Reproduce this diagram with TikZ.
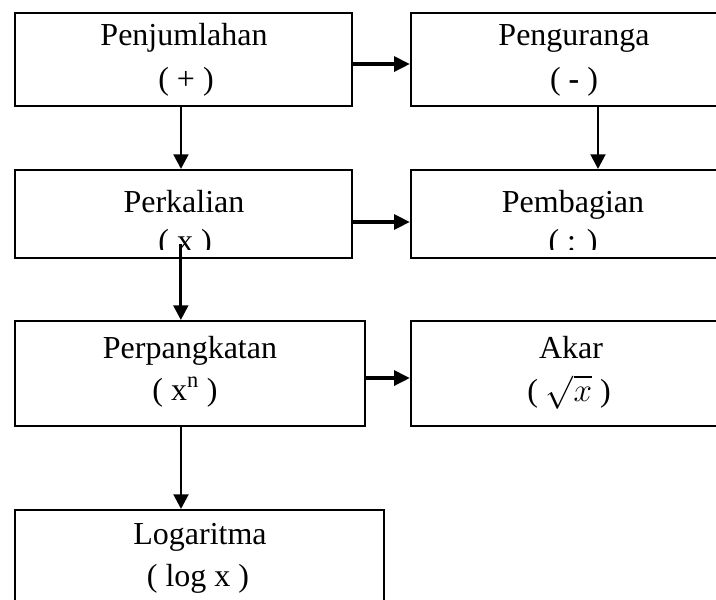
\documentclass[tikz,border=0pt]{standalone}
\usepackage{fontspec}
\setmainfont{Liberation Serif}
\usetikzlibrary{arrows.meta}

\tikzset{
	opbox/.style={draw, line width=1.5pt, rectangle, inner sep=0pt},
	optext/.style={anchor=base, inner sep=0pt, font=\fontsize{24}{28}\selectfont},
	downarrow/.style={line width=2.2pt, -{Triangle[length=11pt,width=11pt]}},
	sidearrow/.style={line width=3pt, -{Triangle[length=12pt,width=11pt]}},
}

\begin{document}
\begin{tikzpicture}[x=0.75pt,y=0.75pt,yscale=-1]
	\useasboundingbox (0,0) rectangle (716,599);
	\clip (0,0) rectangle (716,599);
	
	%Shape: Rectangle [id:penjumlahan]
	\node [opbox, minimum width=252.75pt, minimum height=69.75pt] (pj) at (183.5,59.5) {};
	%Shape: Rectangle [id:penguranga]
	\node [opbox, minimum width=243pt, minimum height=69.75pt] (pg) at (573,59.5) {};
	%Shape: Rectangle [id:perkalian]
	\node [opbox, minimum width=252.75pt, minimum height=66pt] (pk) at (183.5,214) {};
	%Shape: Rectangle [id:pembagian]
	\node [opbox, minimum width=243pt, minimum height=66pt] (pb) at (573,214) {};
	%Shape: Rectangle [id:perpangkatan]
	\node [opbox, minimum width=262.5pt, minimum height=78.75pt] (pp) at (190,373.5) {};
	%Shape: Rectangle [id:akar]
	\node [opbox, minimum width=243pt, minimum height=78.75pt] (ak) at (573,373.5) {};
	%Shape: Rectangle [id:logaritma]
	\node [opbox, minimum width=276.75pt, minimum height=77.25pt] (lg) at (199.5,561.5) {};
	
	% Text Node
	\node [optext] (pj1) at (184,46) {Penjumlahan};
	\node [optext] (pj2) at (186,90) {( + )};
	% Text Node
	\node [optext] (pg1) at (574,46) {Penguranga};
	\node [optext] (pg2) at (574,90) {( \textbf{-} )};
	% Text Node
	\node [optext] (pk1) at (184,212) {Perkalian};
	\node [optext] (pb1) at (573,212) {Pembagian};
	\begin{scope}
		\clip (0,0) rectangle (716,249);
		\node [optext] (pk2) at (185,251) {( x )};
		\node [optext] (pb2) at (573,251) {( : )};
	\end{scope}
	% Text Node
	\node [optext] (pp1) at (190,358) {Perpangkatan};
	\node [optext] (pp2) at (185,400) {( x\textsuperscript{n} )};
	% Text Node
	\node [optext] (ak1) at (571,358) {Akar};
	\node [optext] (ak2) at (569,401) {( $\sqrt{x}$ )};
	% Text Node
	\node [optext] (lg1) at (200,544) {Logaritma};
	\node [optext] (lg2) at (198,586) {( log x )};
	
	%Straight Lines [id:kanan]
	\draw [sidearrow] ([yshift=3.4pt]pj.east) -- ([yshift=3.4pt]pg.west);
	\draw [sidearrow] ([yshift=6pt]pk.east) -- ([yshift=6pt]pb.west);
	\draw [sidearrow] ([yshift=3.4pt]pp.east) -- ([yshift=3.4pt]ak.west);
	%Straight Lines [id:bawah]
	\draw [downarrow] ([xshift=-1.9pt]pj.south) -- ([xshift=-1.9pt]pk.north);
	\draw [downarrow] ([xshift=18.75pt]pg.south) -- ([xshift=18.75pt]pb.north);
	\draw [downarrow] ([xshift=-2pt,yshift=-11pt]pk.south) -- ([xshift=-2pt]pk.south |- pp.north);
	\draw [downarrow] ([xshift=-6.75pt]pp.south) -- ([xshift=-6.75pt]pp.south |- lg.north);
\end{tikzpicture}
\end{document}
